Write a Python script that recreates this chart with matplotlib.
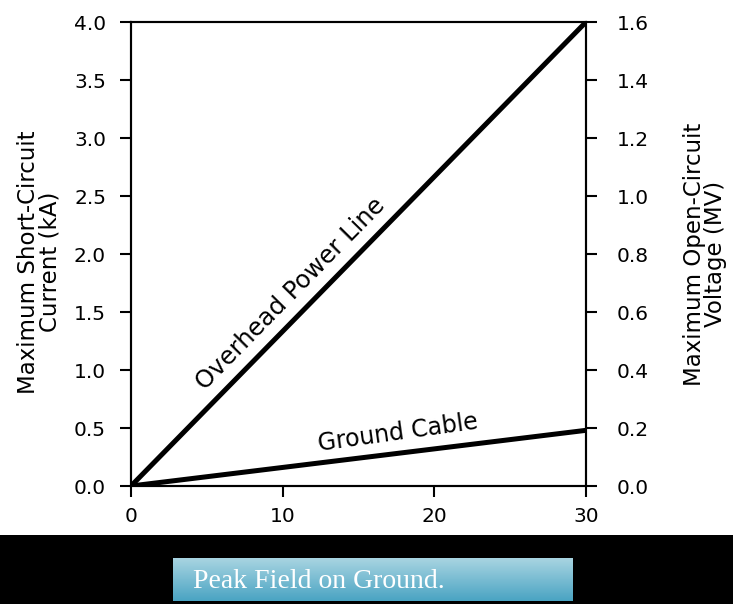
import numpy as np
import matplotlib
matplotlib.use("Agg")
from matplotlib import pyplot as plt
from matplotlib.colors import LinearSegmentedColormap

plt.rcParams.update({
    "font.size": 14.5,
    "font.family": ["DejaVu Sans"]})

# data (distance vs. current in kA)
x_vals = [0, 30]
overhead_ka = [0.0, 4.0]
ground_ka = [0.0, 0.48]
x_ticks = [0, 10, 20, 30]
left_ticks = [0.0, 0.5, 1.0, 1.5, 2.0, 2.5, 3.0, 3.5, 4.0]
right_ticks = [0.0, 0.2, 0.4, 0.6, 0.8, 1.0, 1.2, 1.4, 1.6]

fig = plt.figure(figsize=(7.33, 6.04), dpi=100)
ax = fig.add_axes([131/733, 118/604, 455/733, 464/604])

ax.plot(x_vals, overhead_ka, color="black", lw=3.6, solid_capstyle="round")
ax.plot(x_vals, ground_ka, color="black", lw=3.6, solid_capstyle="round")

ax.set_xlim(0, 30)
ax.set_ylim(0, 4.0)
ax.set_xticks(x_ticks)
ax.set_yticks(left_ticks)
ax.set_yticklabels([f"{v:.1f}" for v in left_ticks])
for s in ax.spines.values():
    s.set_linewidth(1.5)
ax.tick_params(axis="y", direction="out", length=8, width=1.5, pad=10)
ax.tick_params(axis="x", direction="out", length=8, width=1.5, pad=7)

ax2 = ax.twinx()
ax2.set_ylim(0, 1.6)
ax2.set_yticks(right_ticks)
ax2.set_yticklabels([f"{v:.1f}" for v in right_ticks])
ax2.tick_params(direction="out", length=8, width=1.5, pad=14)
for s in ax2.spines.values():
    s.set_linewidth(1.5)

fig.text(39/733, 1 - 262/604, "Maximum Short-Circuit\nCurrent (kA)", rotation=90,
         ha="center", va="center", fontsize=16.5, linespacing=0.9, multialignment="center")
fig.text(705/733, 1 - 254/604, "Maximum Open-Circuit\nVoltage (MV)", rotation=90,
         ha="center", va="center", fontsize=16.5, linespacing=0.9, multialignment="center")

ax.text(10.5, 1.66, "Overhead Power Line", rotation=45.5, ha="center", va="center",
        fontsize=17.5)
ax.text(17.6, 0.46, "Ground Cable", rotation=8, ha="center", va="center",
        fontsize=17)

# caption band
band = fig.add_axes([0, 0, 1, 69/604])
band.set_facecolor("black")
band.set_xticks([])
band.set_yticks([])
for s in band.spines.values():
    s.set_visible(False)

box = fig.add_axes([173/733, 3/604, 400/733, 43/604])
grad = np.linspace(0, 1, 50).reshape(-1, 1)
cmap = LinearSegmentedColormap.from_list("cap", ["#a8d4e1", "#4aa4c3"])
box.imshow(grad, aspect="auto", cmap=cmap, extent=[0, 1, 0, 1], origin="upper")
box.set_axis_off()
box.text(0.05, 0.45, "Peak Field on Ground.", color="white", fontsize=20,
         family=["Liberation Serif", "DejaVu Serif"], ha="left", va="center",
         transform=box.transAxes)

fig.savefig("out.png", dpi=100)
